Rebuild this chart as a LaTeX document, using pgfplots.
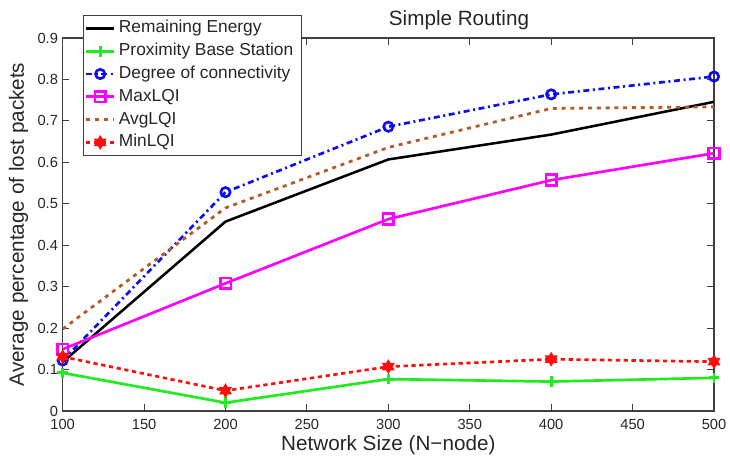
\documentclass[border=0pt]{standalone}
\usepackage{fontspec}
\setmainfont{Liberation Sans}
\usepackage{pgfplots}
\pgfplotsset{compat=1.18}
\usetikzlibrary{plotmarks}

\definecolor{cblack}{rgb}{0,0,0}
\definecolor{cgreen}{rgb}{0.12,0.92,0.12}
\definecolor{cblue}{rgb}{0.05,0.05,0.95}
\definecolor{cmag}{rgb}{1,0,1}
\definecolor{cbrown}{rgb}{0.70,0.36,0.18}
\definecolor{cred}{rgb}{1,0.05,0.05}
\definecolor{axgray}{rgb}{0.25,0.25,0.25}

\pgfdeclareplotmark{hexagram}{%
  \pgfpathmoveto{\pgfpointpolar{90}{\pgfplotmarksize}}%
  \pgfpathlineto{\pgfpointpolar{120}{0.577\pgfplotmarksize}}%
  \pgfpathlineto{\pgfpointpolar{150}{\pgfplotmarksize}}%
  \pgfpathlineto{\pgfpointpolar{180}{0.577\pgfplotmarksize}}%
  \pgfpathlineto{\pgfpointpolar{210}{\pgfplotmarksize}}%
  \pgfpathlineto{\pgfpointpolar{240}{0.577\pgfplotmarksize}}%
  \pgfpathlineto{\pgfpointpolar{270}{\pgfplotmarksize}}%
  \pgfpathlineto{\pgfpointpolar{300}{0.577\pgfplotmarksize}}%
  \pgfpathlineto{\pgfpointpolar{330}{\pgfplotmarksize}}%
  \pgfpathlineto{\pgfpointpolar{0}{0.577\pgfplotmarksize}}%
  \pgfpathlineto{\pgfpointpolar{30}{\pgfplotmarksize}}%
  \pgfpathlineto{\pgfpointpolar{60}{0.577\pgfplotmarksize}}%
  \pgfpathclose
  \pgfusepathqfillstroke}

\begin{document}
\begin{tikzpicture}[font=\fontsize{11}{13}\selectfont, color=black!85]
\path[use as bounding box] (-47pt,-34.5pt) rectangle (500.5pt,308.25pt);
\begin{axis}[
  at={(0,0)}, anchor=south west,
  scale only axis, width=488.5pt, height=279.75pt,
  xmin=100, xmax=500, ymin=0, ymax=0.9,
  xtick={100,150,...,500},
  ytick={0,0.1,0.2,0.3,0.4,0.5,0.6,0.7,0.8,0.9},
  tick align=inside,
  major tick length=5pt,
  axis line style={axgray, line width=0.8pt},
  every tick/.style={axgray, line width=0.8pt},
  /pgf/number format/assume math mode=true,
  yticklabel style={/pgf/number format/fixed, /pgf/number format/precision=1, font=\fontsize{11}{13}\selectfont},
  xticklabel style={font=\fontsize{11}{13}\selectfont, yshift=-2.5pt},
  scaled y ticks=false,
  title={Simple Routing},
  every axis title shift=0pt,
  title style={at={(axis description cs:0.6085,1)}, anchor=base, yshift=9.5pt, font=\fontsize{15.5}{18}\selectfont},
  xlabel={Network Size (N\textminus node)},
  xlabel style={at={(axis description cs:0.5,0)}, anchor=base, yshift=-29.25pt, font=\fontsize{15.5}{18}\selectfont},
  ylabel={Average percentage of lost packets},
  ylabel style={at={(axis description cs:-0.0594,0.5)}, anchor=base, font=\fontsize{15.5}{18}\selectfont},
  legend image code/.code={\draw[mark repeat=2,mark phase=2,#1] plot coordinates {(0pt,0pt) (10.5pt,0pt) (21pt,0pt)};},
  legend cell align=left,
  legend style={at={(0.0307,1.0617)}, anchor=north west, draw=axgray, line width=0.8pt, fill=white,
    font=\fontsize{13}{15}\selectfont, inner xsep=1.2pt, inner ysep=3pt, row sep=3.8pt,
    nodes={inner sep=0.5pt, text height=9.5pt, text depth=2.8pt},
    /tikz/every odd column/.append style={column sep=2pt}},
]
\addplot[cblack, line width=1.9pt, mark=none] coordinates {
  (100,0.118) (200,0.457) (300,0.607) (400,0.667) (500,0.746)};
\addlegendentry{Remaining Energy}
\addplot[cgreen, line width=2pt, mark=+, mark size=4pt, mark options={solid, line width=2.2pt}] coordinates {
  (100,0.092) (200,0.020) (300,0.077) (400,0.071) (500,0.080)};
\addlegendentry{Proximity Base Station\hspace*{4.5pt}}
\addplot[cblue, line width=2pt, dash pattern=on 4.5pt off 2.7pt on 1.5pt off 2.7pt, mark=o, mark size=3.5pt, mark options={solid, line width=2pt}] coordinates {
  (100,0.122) (200,0.528) (300,0.686) (400,0.764) (500,0.807)};
\addlegendentry{Degree of connectivity}
\addplot[cmag, line width=2pt, mark=square, mark size=4pt, mark options={solid, line width=2pt}] coordinates {
  (100,0.149) (200,0.308) (300,0.463) (400,0.557) (500,0.622)};
\addlegendentry{MaxLQI}
\addplot[cbrown, line width=2.1pt, dash pattern=on 3pt off 3.6pt, mark=none] coordinates {
  (100,0.198) (200,0.490) (300,0.636) (400,0.730) (500,0.734)};
\addlegendentry{AvgLQI}
\addplot[cred, line width=2pt, dash pattern=on 3.2pt off 2.7pt, mark=hexagram, mark size=4.8pt, mark options={solid, fill=cred, line width=0.8pt}] coordinates {
  (100,0.131) (200,0.049) (300,0.107) (400,0.125) (500,0.119)};
\addlegendentry{MinLQI}
\end{axis}
\end{tikzpicture}
\end{document}
